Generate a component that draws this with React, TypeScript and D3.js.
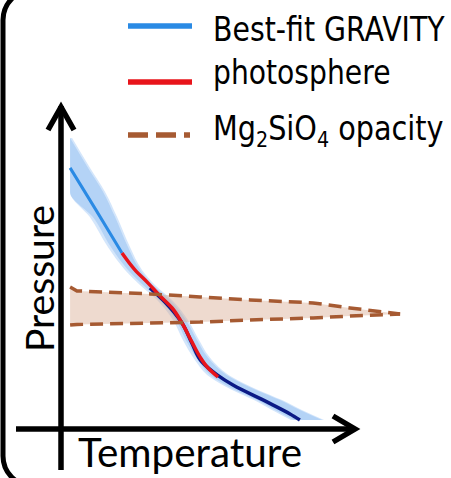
import React from "react";
import * as d3 from "d3";

// ---- data (arbitrary units: temperature 0-100, pressure 0-106) ----
const bestFitT = [2.7, 11.3, 20.0];
const bestFitP = [86.7, 72.7, 58.3];

const photoT = [20.0, 24.3, 28.7, 32.7, 36.7, 40.0, 43.3, 46.0, 48.7, 52.0];
const photoP = [58.3, 52.7, 48.3, 44.0, 40.0, 35.0, 28.7, 23.7, 20.0, 17.0];

const deepT = [29.3, 34.3, 40.0, 43.3, 46.7, 51.7, 57.0, 68.3, 76.0, 79.3];
const deepP = [46.7, 42.0, 35.0, 28.3, 22.0, 17.7, 14.3, 8.7, 4.7, 2.7];

const bandP = [96.7, 86.7, 78.7, 70.3, 60.3, 52.7, 47.7, 42.7, 36.0, 29.3, 22.7, 17.0, 12.7, 9.3, 6.0, 2.7];
const bandLow = [2.7, 2.7, 2.7, 10.3, 16.3, 22.0, 27.0, 32.7, 38.0, 41.3, 45.3, 50.3, 57.7, 65.0, 71.0, 77.3];
const bandHigh = [2.7, 8.7, 13.7, 17.7, 22.0, 26.0, 30.3, 36.0, 41.3, 45.0, 49.3, 56.0, 64.7, 72.7, 79.3, 86.7];

const opacT = [2.7, 5.0, 29.3, 46.0, 62.7, 83.7, 96.0, 112.7];
const opacUpper = [47.0, 45.7, 44.7, 43.7, 42.7, 41.7, 40.0, 38.0];
const opacLower = [34.3, 34.5, 35.0, 35.3, 36.0, 36.7, 37.3, 38.0];

const legendLabels = ["Best-fit GRAVITY", "photosphere", "Mg2SiO4 opacity"];
const xLabel = "Temperature";
const yLabel = "Pressure";

const BLUE = "#2a8ae4";
const RED = "#e8141b";
const NAVY = "#0b1a86";
const BROWN = "#a65a32";

export default function App() {
  const W = 451;
  const H = 478;
  const x = d3.scaleLinear().domain([0, 100]).range([62, 362]);
  const y = d3.scaleLinear().domain([0, 106]).range([428, 110]);

  const zip = (ts: number[], ps: number[]) => ts.map((t, i) => [t, ps[i]] as [number, number]);
  const line = d3
    .line<[number, number]>()
    .x((d) => x(d[0]))
    .y((d) => y(d[1]))
    .curve(d3.curveMonotoneY);
  const lineX = d3
    .line<[number, number]>()
    .x((d) => x(d[0]))
    .y((d) => y(d[1]));

  const bandRows = bandP.map((p, i) => ({ p, lo: bandLow[i], hi: bandHigh[i] }));
  const band = d3
    .area<{ p: number; lo: number; hi: number }>()
    .y((d) => y(d.p))
    .x0((d) => x(d.lo))
    .x1((d) => x(d.hi))
    .curve(d3.curveMonotoneY);
  const bandOuter = d3
    .area<{ p: number; lo: number; hi: number }>()
    .y((d) => y(d.p))
    .x0((d) => Math.max(x(d.lo) - 3, x(2.7)))
    .x1((d) => x(d.hi) + 2)
    .curve(d3.curveMonotoneY);

  const opacRows = opacT.map((t, i) => ({ t, u: opacUpper[i], l: opacLower[i] }));
  const opacArea = d3
    .area<{ t: number; u: number; l: number }>()
    .x((d) => x(d.t))
    .y0((d) => y(d.l))
    .y1((d) => y(d.u));

  const legendY = [26, 82, 135];
  const textBase = [41, 84, 140];

  return (
    <svg width={W} height={H} style={{ position: "absolute", left: 0, top: 0 }}>
      <rect x={0} y={0} width={W} height={H} fill="#fff" />
      {/* rounded frame */}
      <rect x={3} y={-10} width={620} height={496} rx={30} fill="none" stroke="#000" strokeWidth={5} />

      {/* uncertainty band */}
      <path d={bandOuter(bandRows) || ""} fill="#d4e6fb" />
      <path d={band(bandRows) || ""} fill="#b4d3f6" />

      {/* opacity region */}
      <path d={opacArea(opacRows) || ""} fill="#d9ad94" fillOpacity={0.45} />

      {/* profiles */}
      <path d={line(zip(deepT, deepP)) || ""} fill="none" stroke={NAVY} strokeWidth={3.5} />
      <path d={line(zip(bestFitT, bestFitP)) || ""} fill="none" stroke={BLUE} strokeWidth={3} />
      <path d={line(zip(photoT, photoP)) || ""} fill="none" stroke={RED} strokeWidth={3.5} />

      {/* opacity boundaries */}
      <path d={lineX(zip(opacT, opacUpper)) || ""} fill="none" stroke={BROWN} strokeWidth={3.5} strokeDasharray="13 7" />
      <path d={lineX(zip(opacT, opacLower)) || ""} fill="none" stroke={BROWN} strokeWidth={3.5} strokeDasharray="13 7" />

      {/* axes */}
      <line x1={61} y1={470} x2={61} y2={106} stroke="#000" strokeWidth={5.5} />
      <polyline points="48,130 61,107 74,130" fill="none" stroke="#000" strokeWidth={5.5} strokeLinejoin="miter" />
      <line x1={16} y1={429} x2={354} y2={429} stroke="#000" strokeWidth={5.5} />
      <polyline points="333,416 355,429 333,442" fill="none" stroke="#000" strokeWidth={5.5} strokeLinejoin="miter" />

      {/* axis labels */}
      <text x={78} y={467} fontFamily="Lato" fontSize={40} textLength={224} lengthAdjust="spacingAndGlyphs" fill="#000">
        {xLabel}
      </text>
      <text
        transform="translate(54,352) rotate(-90)"
        fontFamily="Lato"
        fontSize={38}
        textLength={147}
        lengthAdjust="spacingAndGlyphs"
        fill="#000"
      >
        {yLabel}
      </text>

      {/* legend */}
      <line x1={128} x2={192} y1={legendY[0]} y2={legendY[0]} stroke={BLUE} strokeWidth={5.5} />
      <line x1={128} x2={192} y1={legendY[1]} y2={legendY[1]} stroke={RED} strokeWidth={5.5} />
      <line x1={128} x2={190} y1={legendY[2]} y2={legendY[2]} stroke={BROWN} strokeWidth={5.5} strokeDasharray="20 8" />
      <g fontFamily="DejaVu Sans" fontSize={33} fill="#000">
        <g transform={`translate(213,${textBase[0]}) scale(0.86,1)`}>
          <text x={0} y={0}>{legendLabels[0]}</text>
        </g>
        <g transform={`translate(213,${textBase[1]}) scale(0.855,1)`}>
          <text x={0} y={0}>{legendLabels[1]}</text>
        </g>
        <g transform={`translate(213,${textBase[2]}) scale(0.87,1)`}>
          <text x={0} y={0}>
            <tspan>Mg</tspan>
            <tspan fontSize={22} dy={7}>2</tspan>
            <tspan dy={-7}>SiO</tspan>
            <tspan fontSize={22} dy={7}>4</tspan>
            <tspan dy={-7}> opacity</tspan>
          </text>
        </g>
      </g>
    </svg>
  );
}
